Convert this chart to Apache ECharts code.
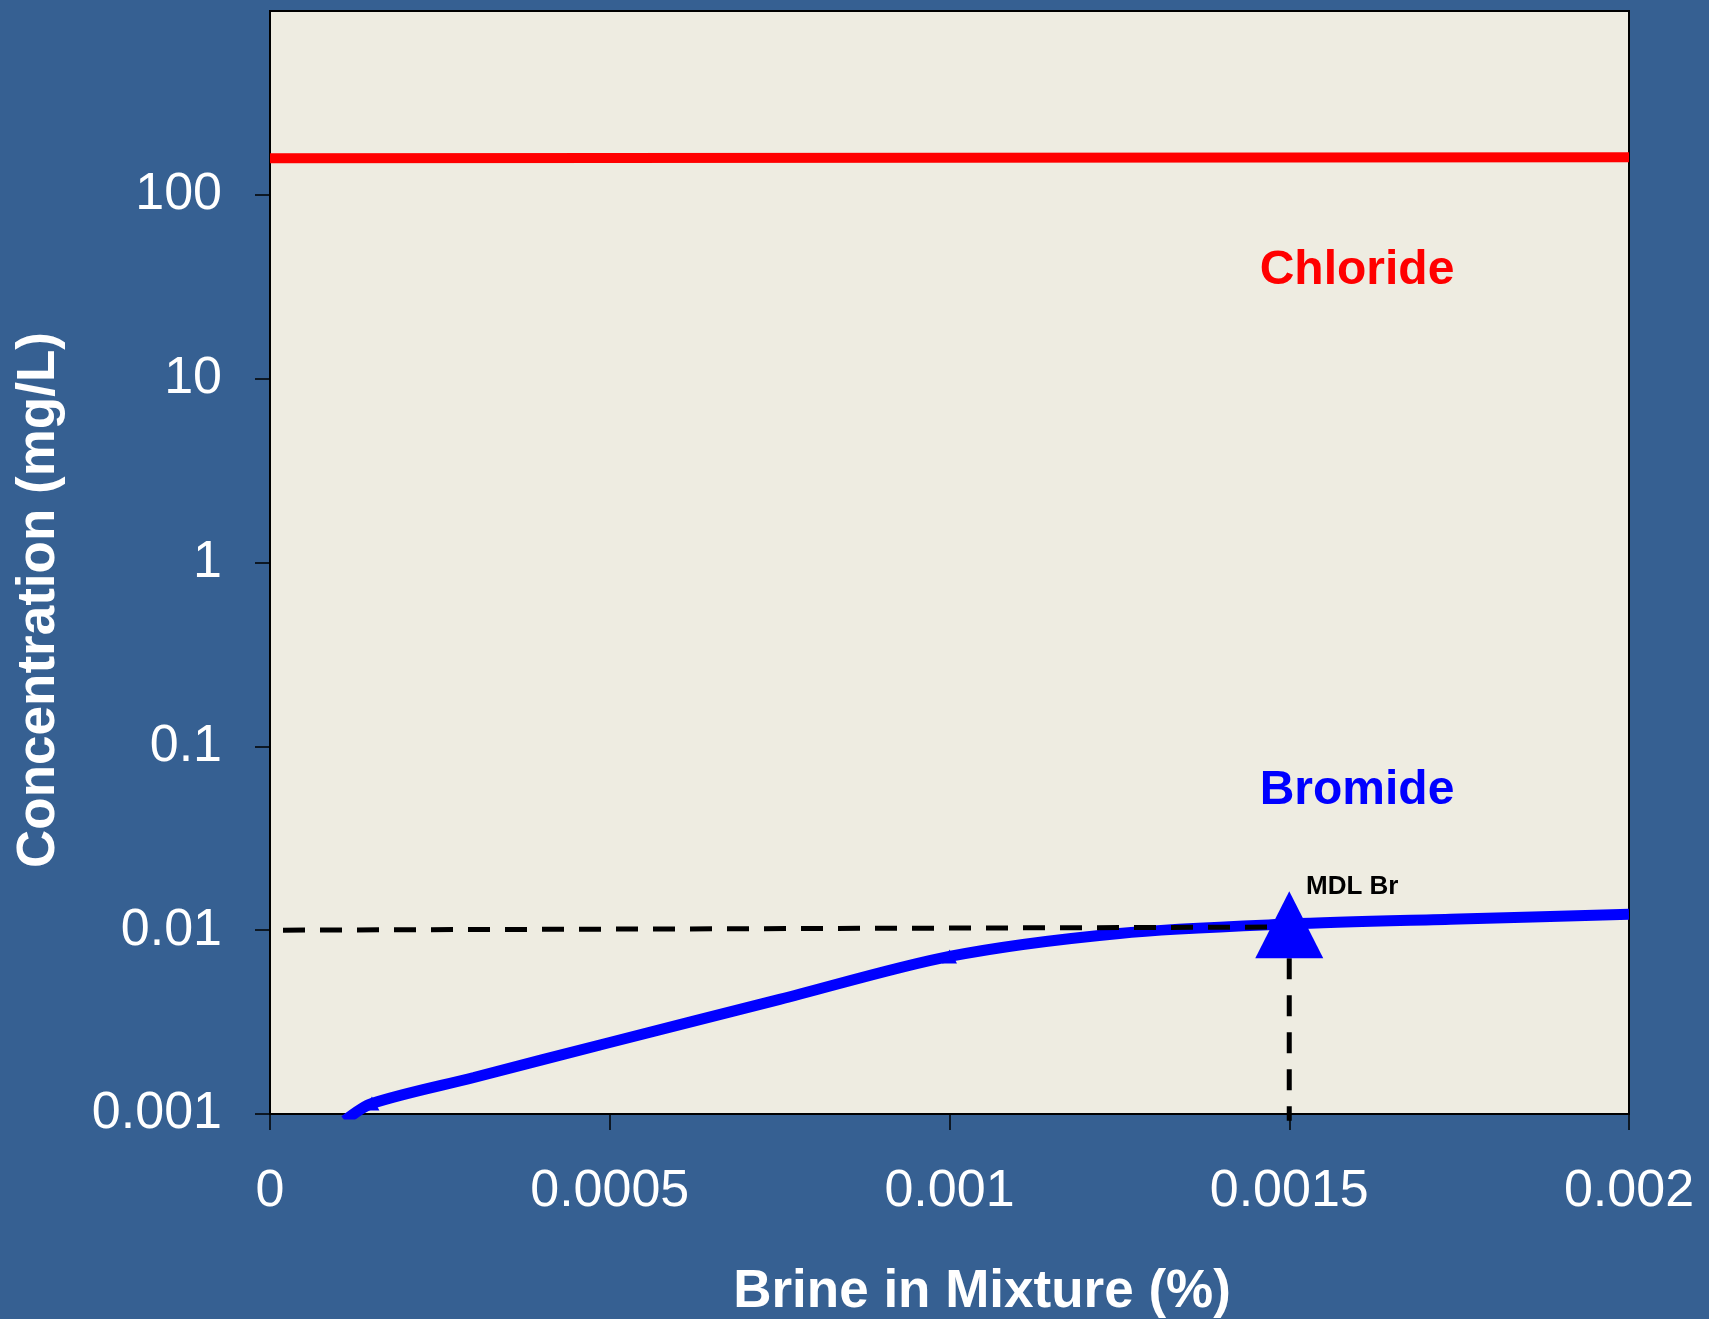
<!DOCTYPE html>
<html><head><meta charset="utf-8">
<script src="https://cdn.jsdelivr.net/npm/echarts@6/dist/echarts.min.js"></script>
<style>html,body{margin:0;padding:0;background:#366092}#c{width:1709px;height:1319px}</style>
</head><body><div id="c"></div>
<script>
// ---- data ----
const brinePct   = [0.00011, 0.00015, 0.0003, 0.0005, 0.00075, 0.001, 0.00125, 0.0015, 0.00175, 0.002];
const bromide    = [0.00092, 0.00114, 0.00158, 0.00245, 0.0042, 0.0072, 0.0096, 0.0108, 0.0115, 0.0122];
const chlorideX  = [0, 0.002];
const chloride   = [158, 160];
const brMarkX    = [0.00015, 0.001];
const brMarkY    = [0.00114, 0.0072];
const mdlX       = [0.0015];
const mdlY       = [0.0107];
const mdlHorizX  = [0, 0.0015];
const mdlHorizY  = [0.0100, 0.0104];
const mdlVertX   = [0.0015, 0.0015];
const mdlVertY   = [0.0107, 0.00092];
const xTickLabels = ['0', '0.0005', '0.001', '0.0015', '0.002'];
const yTickLabels = ['0.001', '0.01', '0.1', '1', '10', '100'];

const zip = (xs, ys) => xs.map((x, i) => [x, ys[i]]);
const FONT = '"Liberation Sans", Arial, sans-serif';

const chart = echarts.init(document.getElementById('c'), null, {renderer: 'canvas'});
chart.setOption({
  backgroundColor: '#366092',
  animation: false,
  grid: {left: 270, top: 11, width: 1359, height: 1103, show: true,
         backgroundColor: '#EEECE1', borderColor: '#000', borderWidth: 2},
  xAxis: {
    type: 'value', min: 0, max: 0.002, interval: 0.0005,
    axisLine: {show: true, onZero: false, lineStyle: {color: '#000', width: 2}},
    axisTick: {show: true, length: 16, lineStyle: {color: '#000', width: 1.5}},
    splitLine: {show: false},
    axisLabel: {color: '#fff', fontSize: 52, fontFamily: FONT, margin: 52,
      formatter: v => xTickLabels[Math.round(v / 0.0005)] ?? ''}
  },
  yAxis: {
    type: 'log', logBase: 10, min: 0.001, max: 1000,
    axisLine: {show: true, lineStyle: {color: '#000', width: 2}},
    axisTick: {show: true, length: 15, lineStyle: {color: '#000', width: 1.5}},
    splitLine: {show: false},
    minorTick: {show: false},
    axisLabel: {color: '#fff', fontSize: 52, fontFamily: FONT, margin: 48, showMaxLabel: false,
      formatter: v => yTickLabels[Math.round(Math.log10(v)) + 3] ?? ''}
  },
  graphic: [
    {type: 'text', x: 982, y: 1292, style: {text: 'Brine in Mixture (%)', font: 'bold 53px ' + FONT, fill: '#fff', align: 'center', verticalAlign: 'middle'}},
    {type: 'text', x: 39, y: 600, rotation: Math.PI / 2, style: {text: 'Concentration (mg/L)', font: 'bold 53px ' + FONT, fill: '#fff', align: 'center', verticalAlign: 'middle'}},
    {type: 'text', x: 1357, y: 271, z: 100, style: {text: 'Chloride', font: 'bold 48px ' + FONT, fill: '#FF0000', align: 'center', verticalAlign: 'middle'}},
    {type: 'text', x: 1357, y: 791, z: 100, style: {text: 'Bromide', font: 'bold 48px ' + FONT, fill: '#0000FF', align: 'center', verticalAlign: 'middle'}},
    {type: 'text', x: 1306, y: 887, z: 100, style: {text: 'MDL Br', font: 'bold 26px ' + FONT, fill: '#000', align: 'left', verticalAlign: 'middle'}}
  ],
  series: [
    {type: 'line', name: 'Chloride', data: zip(chlorideX, chloride), showSymbol: false, z: 2,
     lineStyle: {color: '#FF0000', width: 10}},
    {type: 'line', name: 'Bromide', data: zip(brinePct, bromide), showSymbol: false, smooth: 0.3, z: 3,
     lineStyle: {color: '#0000FF', width: 11}},
    {type: 'scatter', name: 'Bromide points', data: zip(brMarkX, brMarkY), symbol: 'triangle', symbolSize: [15, 14], z: 3,
     itemStyle: {color: '#0000FF', opacity: 1}},
    {type: 'line', name: 'MDL horizontal', data: zip(mdlHorizX, mdlHorizY), showSymbol: false, z: 4,
     lineStyle: {color: '#000', width: 5, type: [22, 15], dashOffset: 24}},
    {type: 'line', name: 'MDL vertical', data: zip(mdlVertX, mdlVertY), showSymbol: false, z: 4, clip: false,
     lineStyle: {color: '#000', width: 5, type: [21, 16], dashOffset: 3.6}},
    {type: 'scatter', name: 'MDL Br', data: zip(mdlX, mdlY), symbol: 'triangle', symbolSize: [68, 67], z: 5,
     itemStyle: {color: '#0000FF', opacity: 1}}
  ]
});
</script></body></html>
